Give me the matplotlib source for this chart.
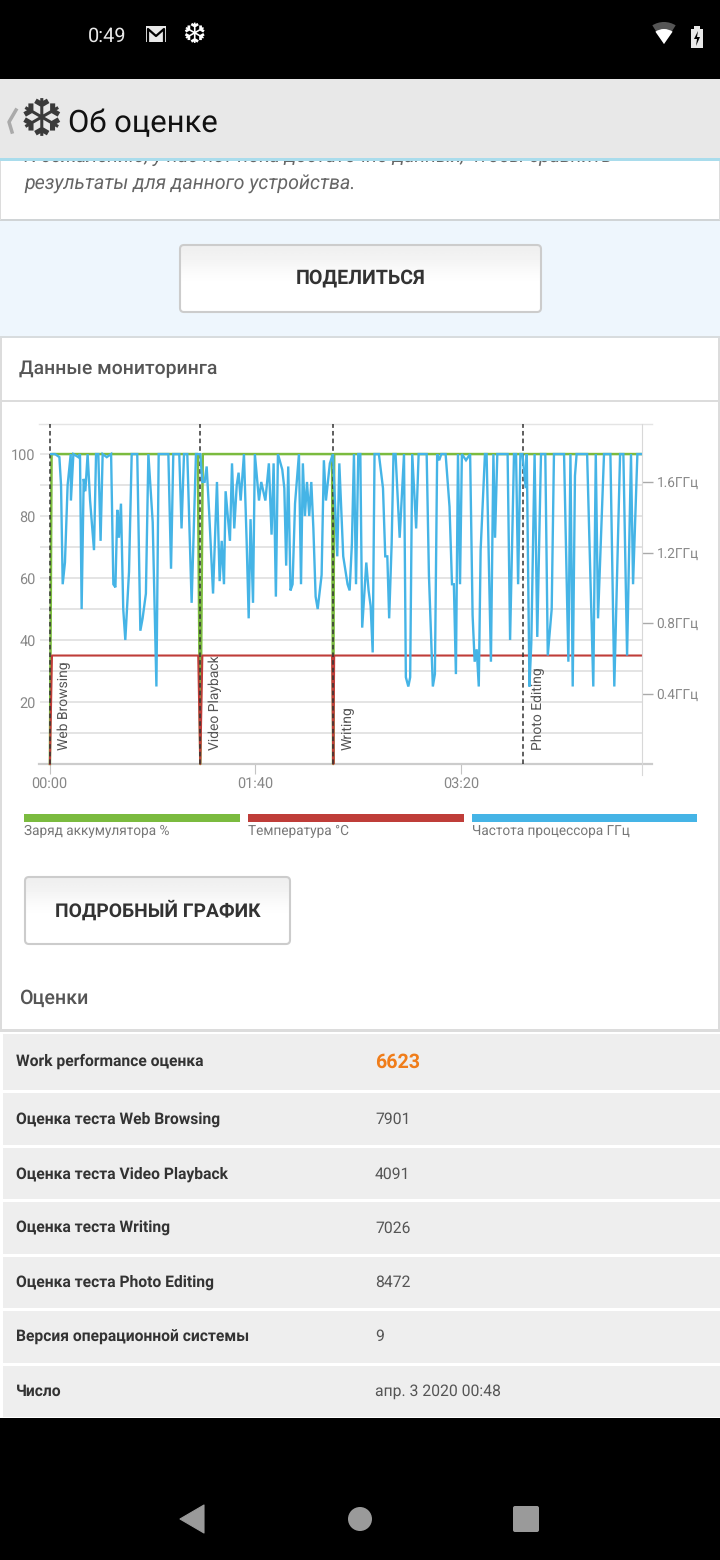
import matplotlib
matplotlib.use('Agg')
import matplotlib.pyplot as plt
import numpy as np
from matplotlib.patches import Rectangle, FancyBboxPatch, Circle, Polygon, Wedge

plt.rcParams['font.family'] = ['Roboto', 'DejaVu Sans']
plt.rcParams['text.hinting'] = 'no_hinting'

# CPU trace: minutes, percent of the left scale
cpu_time = [0.2, 2.7, 4.8, 5.6, 6.4, 7.5, 8.8, 10.3, 10.4, 11.6, 14, 14.8, 15.6, 16.6, 17.4, 18.5, 19.7, 21.6,
            22.6, 23.7, 24.8, 25.8, 27.8, 29.9, 31, 32, 32.9, 33.7, 34.7, 35.8, 36.8, 38.6, 39.9, 42.6, 44.1,
            45.2, 46.8, 48, 50.1, 51.9, 53, 57.7, 59, 60.1, 63, 64.1, 65.3, 66.9, 69, 71.1, 72.2, 73.2, 74.2,
            75.3, 76.3, 77.6, 79.4, 81.3, 82.6, 83.6, 84.7, 85.5, 87.6, 88.6, 89.7, 90.9, 91.8,
            92.8, 94.4, 95.7, 96.7, 97.6, 98.8, 99.7, 101.7, 102.8, 104.8, 106.5, 107.8, 108.8, 109.9, 110.9,
            113, 114, 114.9, 115.9, 117, 118, 119.2, 121.1, 122.1, 123, 124, 125, 126.1, 127.1, 128.1, 129.2,
            130.2, 132.1, 133.2, 134.2, 136.1, 137.6, 139.7, 140.7, 142.6, 144.7, 145.7, 146.8, 147.8, 148.8,
            149.9, 150.9, 151.8, 153.8, 154.9, 155.9, 156.9, 157.8, 159.9, 161.9, 163, 164, 164.9, 166.1, 167,
            168, 170, 172.1, 173, 174.2, 175.1, 176.1, 178, 179.2, 183.1, 184.2, 186.1, 187.1, 188.2, 189.2,
            190.2, 192.3, 194.2, 195.4, 196.3, 197.3, 198.3, 199.3, 200.2, 202.2, 204.2,
            205.4, 206.4, 207.4, 208.4, 209.3, 211.4, 212.2, 214.3, 215.5, 216.3, 217.4, 222.4, 223.6, 225.5,
            226.5, 227.5, 228.6, 229.6, 231.2, 231.7, 233, 233.9, 235.5, 236.8, 238.6, 240.7, 241.9, 243.8,
            244.9, 249.8, 251.9, 252.9, 254, 255.1, 255.9, 261, 264, 265.2, 266.3, 269.2, 272.3, 274.2, 277,
            278.6, 280.4, 282.3, 283.3, 285.4, 287.2]
cpu_pct = [100, 100, 99, 90, 58, 65, 90, 100, 85, 100, 99, 100, 50, 92, 88, 100, 85, 69,
           100, 100, 72, 100, 99, 100, 58, 57, 82, 73, 84, 50, 40, 62, 100, 100, 43,
           47, 55, 100, 78, 25, 100, 100, 63, 100, 100, 76, 100, 100, 52, 100, 100, 100, 91,
           91, 96, 80, 55, 91, 59, 72, 58, 88, 72, 97, 76, 90, 94,
           85, 100, 72, 47, 79, 52, 100, 85, 91, 85, 97, 74, 97, 54, 100,
           95, 89, 64, 96, 56, 58, 84, 100, 58, 97, 80, 91, 80, 91, 76, 54,
           50, 61, 98, 85, 97, 100, 67, 97, 67, 58, 56, 71, 100, 58,
           100, 100, 44, 65, 56, 51, 36, 100, 100, 89, 67, 67, 47, 71, 100,
           100, 73, 100, 28, 25, 28, 100, 76, 100, 100, 61, 25, 29, 100, 98,
           100, 100, 83, 58, 58, 29, 100, 58, 100, 98, 100,
           48, 33, 37, 25, 69, 100, 100, 33, 100, 73, 100, 100, 40, 100,
           100, 58, 100, 100, 89, 100, 25, 39, 100, 41, 100, 100, 35, 50,
           100, 100, 33, 100, 25, 93, 100, 100, 25, 100, 47, 100, 100, 25, 100,
           100, 35, 100, 58, 100, 100]

battery_time = [0.2, 1.0, 72.0, 73.2, 74.4, 137.2, 137.7, 138.2, 287.2]
battery_pct = [0, 100, 100, 0, 100, 100, 0, 100, 100]
temp_time = [0.2, 1.2, 72.2, 73.2, 74.2, 137.2, 137.8, 138.2, 287.2]
temp_c = [0, 35, 35, 0, 35, 35, 0, 35, 35]

test_names = ['Web Browsing', 'Video Playback', 'Writing', 'Photo Editing']
test_starts = [0, 73, 137.6, 229.9]
label_x = [64, 215, 348, 538]

time_ticks = [0, 100, 200]
time_labels = ['00:00', '01:40', '03:20']
left_ticks = [20, 40, 60, 80, 100]
ghz_ticks = [0.4, 0.8, 1.2, 1.6]
ghz_labels = ['0.4ГГц', '0.8ГГц', '1.2ГГц', '1.6ГГц']

legend_names = ['Заряд аккумулятора %', 'Температура °C', 'Частота процессора ГГц']
legend_left = [24, 248, 472]
legend_width = [216, 216, 225]

score_names = ['Work performance оценка', 'Оценка теста Web Browsing', 'Оценка теста Video Playback',
               'Оценка теста Writing', 'Оценка теста Photo Editing', 'Версия операционной системы', 'Число']
score_values = ['6623', '7901', '4091', '7026', '8472', '9', 'апр. 3 2020 00:48']
row_top = [1034, 1093, 1148, 1202, 1257, 1311, 1366]
row_bottom = [1090, 1145, 1199, 1254, 1308, 1363, 1417]
row_text_y = [1061, 1119, 1174, 1228, 1282, 1337, 1391]

GREEN = '#7bbb3f'
RED = '#bf3d39'
BLUE = '#45b4e6'
W, H = 720, 1560


def px(v):
    return v * 0.72  # pixels to points at dpi 100


fig = plt.figure(figsize=(7.2, 15.6), dpi=100)
ui = fig.add_axes([0, 0, 1, 1])
ui.axis('off')
grad = np.array([[0.94], [0.96], [0.985], [1.0], [1.0], [1.0]])


def box(x0, y0, x1, y1, color, z=1, **kw):
    ui.add_patch(Rectangle((x0, y0), x1 - x0, y1 - y0, fc=color, ec='none', zorder=z, **kw))


def button(x0, y0, x1, y1, text, size):
    shape = FancyBboxPatch((x0 + 3, y0 + 3), x1 - x0 - 6, y1 - y0 - 6, boxstyle='round,pad=3,rounding_size=4',
                           fc='none', ec='#cccccc', lw=1.5, zorder=3.5)
    ui.add_patch(shape)
    im = ui.imshow(grad, cmap='gray', vmin=0, vmax=1, extent=(x0, x1, y1, y0), aspect='auto',
                   interpolation='bilinear', zorder=3)
    im.set_clip_path(shape)
    ui.text((x0 + x1) / 2, (y0 + y1) / 2 - 0.5, text, fontsize=px(size), fontweight='bold', color='#333333',
            ha='center', va='center', zorder=4)


# page background
box(0, 220, W, 337, '#eef6fd')
box(0, 160, W, 219, 'white')
box(0, 219, W, 221, '#d0d4d6', z=2)
box(0, 337, W, 1030, 'white')
box(0, 336, W, 338, '#d8dcde', z=2)
box(0, 400, W, 402, '#dcdcdc', z=2)
box(0, 338, 2, 1030, '#dcdcdc', z=2)
box(718, 338, 720, 1030, '#dcdcdc', z=2)
box(0, 160, 1, 220, '#dcdcdc', z=2)
box(719, 160, 720, 220, '#dcdcdc', z=2)

# status bar and title bar
box(0, 0, W, 79, 'black', z=5)
box(0, 79, W, 158, '#e8e8e8', z=5)
box(0, 158, W, 161, '#a9dcec', z=5)
ui.text(88, 36, '0:49', color='#e8e8e8', fontsize=px(20), ha='left', va='center', zorder=6)
ui.add_patch(Rectangle((146, 26), 20, 16, fc='#e8e8e8', ec='none', zorder=6))
ui.plot([148, 148, 156, 164, 164], [41, 29, 36, 29, 41], color='black', lw=1.6, zorder=7)
ui.text(194, 35, '❆', color='white', fontsize=px(28), family='DejaVu Sans', ha='center', va='center', zorder=6)
# the y axis is flipped here, so these wedge angles point upwards
ui.add_patch(Wedge((664, 44), 22, 238, 302, fc='#555555', ec='none', zorder=6))
ui.add_patch(Wedge((664, 44), 15, 235, 305, fc='white', ec='none', zorder=7))
ui.add_patch(Rectangle((691, 29), 12, 19, fc='#e8e8e8', ec='none', zorder=6))
ui.add_patch(Rectangle((694, 26), 6, 3, fc='#e8e8e8', ec='none', zorder=6))
ui.add_patch(Polygon([[698, 31], [694, 39], [697, 39], [696, 46], [700, 37], [697, 37]], fc='black', ec='none', zorder=7))

ui.plot([16, 9, 12], [110, 122, 132], color='#aaaaaa', lw=2.5, zorder=6)
ui.text(41, 122, '❆', color='#3a3a3a', fontsize=px(52), family='DejaVu Sans', ha='center', va='center', zorder=6)
ui.text(68, 124, 'Об оценке', color='#111111', fontsize=px(31), ha='left', va='center', zorder=6)

ui.text(24, 157, 'К сожалению, у нас нет пока достаточно данных, чтобы сравнить', color='#666666', fontsize=px(19.5),
        style='italic', ha='left', va='center', zorder=3)
ui.text(24, 183, 'результаты для данного устройства.', color='#666666', fontsize=px(19.6), style='italic',
        ha='left', va='center', zorder=3)
button(180, 245, 541, 312, 'ПОДЕЛИТЬСЯ', 19.7)
ui.text(19, 368.5, 'Данные мониторинга', color='#555555', fontsize=px(19.4), fontweight='medium', ha='left', va='center', zorder=3)

# legend
for name, x0, w, c in zip(legend_names, legend_left, legend_width, [GREEN, RED, BLUE]):
    box(x0, 814, x0 + w, 822, c, z=3)
    ui.text(x0, 831, name, color='#777777', fontsize=px(13.6), ha='left', va='center', zorder=3)

button(25, 877, 290, 944, 'ПОДРОБНЫЙ ГРАФИК', 19.3)
ui.text(19, 998, 'Оценки', color='#555555', fontsize=px(19.6), fontweight='medium', ha='left', va='center', zorder=3)

# score table
box(0, 1030, W, 1418, 'white')
box(0, 1029, W, 1032, '#dcdcdc', z=2)
for i, (name, val) in enumerate(zip(score_names, score_values)):
    box(3, row_top[i], W, row_bottom[i], '#eeeeee', z=2)
    yc = row_text_y[i]
    ui.text(16, yc, name, color='#333333', fontsize=px(15.6), fontweight='bold', ha='left', va='center', zorder=3)
    if i == 0:
        ui.text(375, yc + 1, val, color='#f07d1a', fontsize=px(19.6), fontweight='bold', ha='left', va='center', zorder=3)
    else:
        ui.text(375, yc, val, color='#555555', fontsize=px(15.8), ha='left', va='center', zorder=3)

# navigation bar
box(0, 1418, W, H, 'black', z=5)
ui.add_patch(Polygon([[204, 1505], [204, 1533], [180, 1519]], fc='#9a9a9a', ec='#9a9a9a', lw=0.8, joinstyle='round', zorder=6))
ui.add_patch(Circle((360, 1519), 12, fc='#9a9a9a', ec='none', zorder=6))
ui.add_patch(FancyBboxPatch((514, 1507), 24, 24, boxstyle='round,pad=1,rounding_size=2', fc='#9a9a9a', ec='none', zorder=6))
ui.set_xlim(0, W)
ui.set_ylim(H, 0)
ui.set_zorder(1)

# monitoring chart
left, right, top, bottom = 49.5, 641.5, 424, 764
ax = fig.add_axes([left / W, 1 - bottom / H, (right - left) / W, (bottom - top) / H], zorder=3)
ax.patch.set_alpha(0)
ax.set_xlim(0, 287.4)
ax.set_ylim(0, 109.7)
for s in ax.spines.values():
    s.set_visible(False)
ax.set_yticks(range(0, 110, 10))
ax.set_yticklabels(['' if v not in left_ticks else str(v) for v in range(0, 110, 10)])
ax.tick_params(axis='y', length=px(10), width=1.1, color='#e2e2e2', pad=px(4), labelsize=px(14.5), labelcolor='#888888')
ax.set_xticks(time_ticks)
ax.set_xticklabels(time_labels)
ax.tick_params(axis='x', length=px(10), width=0.8, color='#c4c4c4', pad=px(3), labelsize=px(14.5), labelcolor='#888888')
ax.grid(axis='y', color='#e2e2e2', lw=1.3, zorder=0)
ax.set_axisbelow(True)

ghz = ax.twinx()
ghz.patch.set_alpha(0)
ghz.set_ylim(0, 340 / 176.25)
for s in ghz.spines.values():
    s.set_visible(False)
ghz.spines['right'].set_visible(True)
ghz.spines['right'].set_color('#d8d8d8')
ghz.spines['right'].set_bounds(-0.06, 340 / 176.25)
ghz.set_yticks(ghz_ticks)
ghz.set_yticklabels(ghz_labels)
ghz.tick_params(axis='y', length=px(11), width=1, color='#aaaaaa', pad=px(4), labelsize=px(13.6), labelcolor='#888888')

# frame lines at top and bottom run past the plot on both sides
for yv, c, lw in [(109.7, '#e4e4e4', 1), (0, '#cccccc', 1.6)]:
    ax.plot([-0.017, 1.018], [yv, yv], transform=ax.get_yaxis_transform(), color=c, lw=lw, clip_on=False, zorder=1)

ax.plot(battery_time, battery_pct, color=GREEN, lw=1.8, clip_on=False, zorder=2)
ax.plot(temp_time, temp_c, color=RED, lw=1.5, clip_on=False, zorder=3)
for t in test_starts:
    ax.axvline(t, color='#333333', lw=1.1, ls=(0, (3, 2)), clip_on=False, zorder=3.6)
ax.plot(cpu_time, cpu_pct, color=BLUE, lw=1.7, solid_joinstyle='miter', zorder=4)

# figure text so the grid lines do not cut through the letters
for name, x in zip(test_names, label_x):
    fig.text(x / W, 1 - 750 / H, name, rotation=90, color='#555555', fontsize=px(13.9), ha='center', va='bottom', zorder=6)

fig.savefig('out.png', dpi=100)
